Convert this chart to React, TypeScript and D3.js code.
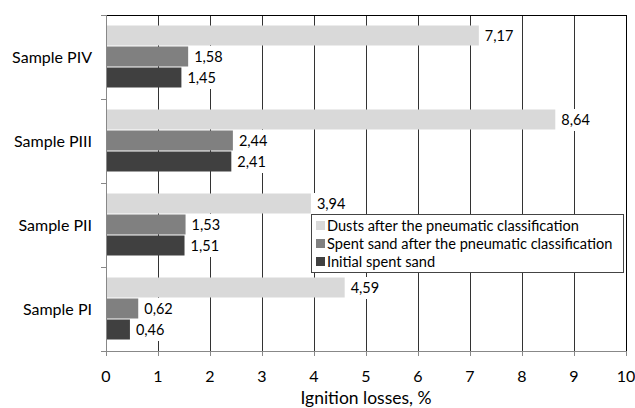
import React, { useEffect, useRef } from "react";
import * as d3 from "d3";

const categories = ["Sample PIV", "Sample PIII", "Sample PII", "Sample PI"];
const seriesNames = [
  "Dusts after the pneumatic classification",
  "Spent sand after the pneumatic classification",
  "Initial spent sand",
];
const dusts = [7.17, 8.64, 3.94, 4.59];
const spentAfter = [1.58, 2.44, 1.53, 0.62];
const initialSpent = [1.45, 2.41, 1.51, 0.46];
const xTicks = [0, 1, 2, 3, 4, 5, 6, 7, 8, 9, 10];
const colors = ["#d9d9d9", "#808080", "#404040"];
const axisTitle = "Ignition losses, %";

const W = 635;
const H = 408;
const FONT = "Lato, 'Open Sans', sans-serif";

export default function App() {
  const ref = useRef<SVGSVGElement>(null);
  useEffect(() => {
    const svg = d3.select(ref.current);
    svg.selectAll("*").remove();
    const left = 106, right = 626, top = 15, bottom = 351;
    const x = d3.scaleLinear().domain([0, 10]).range([left, right]);
    const y = d3.scaleBand().domain(categories).range([top, bottom]).paddingInner(0.25).paddingOuter(0.125);
    const inner = d3.scaleBand().domain(seriesNames).range([0, y.bandwidth()]);
    const series = [dusts, spentAfter, initialSpent];

    const g = svg.append("g");
    // gridlines
    g.selectAll("line.grid").data(xTicks.slice(1)).join("line")
      .attr("x1", d => x(d) + 0.5).attr("x2", d => x(d) + 0.5)
      .attr("y1", top).attr("y2", bottom)
      .attr("stroke", d => d === 10 ? "#000" : "#333").attr("stroke-width", 1);
    // top border
    g.append("line").attr("x1", left).attr("x2", right + 1).attr("y1", top + 0.5).attr("y2", top + 0.5).attr("stroke", "#000");

    // bars
    series.forEach((vals, si) => {
      g.selectAll(`rect.s${si}`).data(vals).join("rect")
        .attr("x", left + 1)
        .attr("y", (d, i) => (y(categories[i]) as number) + (inner(seriesNames[si]) as number))
        .attr("width", d => x(d) - left - 1)
        .attr("height", inner.bandwidth() - 1)
        .attr("fill", colors[si]);
    });

    // axes
    g.append("line").attr("x1", left + 0.5).attr("x2", left + 0.5).attr("y1", top).attr("y2", bottom + 5).attr("stroke", "#888");
    g.append("line").attr("x1", left - 5).attr("x2", right + 1).attr("y1", bottom + 0.5).attr("y2", bottom + 0.5).attr("stroke", "#888");
    const bandEdges = d3.range(categories.length + 1).map(i => top + (i * (bottom - top)) / categories.length);
    g.selectAll("line.yt").data(bandEdges).join("line")
      .attr("x1", left - 5).attr("x2", left).attr("y1", d => d + 0.5).attr("y2", d => d + 0.5).attr("stroke", "#888");
    g.selectAll("line.xt").data(xTicks).join("line")
      .attr("x1", d => x(d) + 0.5).attr("x2", d => x(d) + 0.5).attr("y1", bottom).attr("y2", bottom + 5).attr("stroke", "#888");

    // value labels
    series.forEach((vals, si) => {
      vals.forEach((v, i) => {
        const cy = (y(categories[i]) as number) + (inner(seriesNames[si]) as number) + inner.bandwidth() / 2;
        const txt = v.toFixed(2).replace(".", ",");
        const tx = x(v) + 6;
        const t = g.append("text").attr("x", tx).attr("y", cy).attr("dy", "0.35em")
          .attr("font-family", FONT).attr("font-size", 14.5).attr("fill", "#000").text(txt);
        const bb = (t.node() as SVGTextElement).getBBox();
        g.insert("rect", () => t.node() as any)
          .attr("x", bb.x - 4).attr("y", cy - 11).attr("width", bb.width + 8).attr("height", 22).attr("fill", "#fff");
      });
    });

    // category labels
    g.selectAll("text.cat").data(categories).join("text")
      .attr("x", 92).attr("y", d => (y(d) as number) + y.bandwidth() / 2).attr("dy", "0.35em")
      .attr("text-anchor", "end").attr("font-family", FONT).attr("font-size", 16).text(d => d);

    // x tick labels
    g.selectAll("text.xl").data(xTicks).join("text")
      .attr("x", d => x(d)).attr("y", 382).attr("text-anchor", "middle")
      .attr("font-family", FONT).attr("font-size", 16).text(d => String(d));

    g.append("text").attr("x", (left + right) / 2).attr("y", 404).attr("text-anchor", "middle")
      .attr("font-family", FONT).attr("font-size", 17.5).text(axisTitle);

    // legend
    const lg = g.append("g");
    lg.append("rect").attr("x", 311.5).attr("y", 214.5).attr("width", 312).attr("height", 58)
      .attr("fill", "#fff").attr("stroke", "#444").attr("stroke-width", 1);
    seriesNames.forEach((n, i) => {
      const ly = 226 + i * 18;
      lg.append("rect").attr("x", 316).attr("y", ly - 5).attr("width", 9).attr("height", 9).attr("fill", colors[i]);
      lg.append("text").attr("x", 327).attr("y", ly).attr("dy", "0.35em")
        .attr("font-family", FONT).attr("font-size", 14.6).text(n);
    });
  }, []);
  return (
    <svg ref={ref} width={W} height={H} style={{ position: "absolute", left: 0, top: 0, background: "#fff" }} />
  );
}
